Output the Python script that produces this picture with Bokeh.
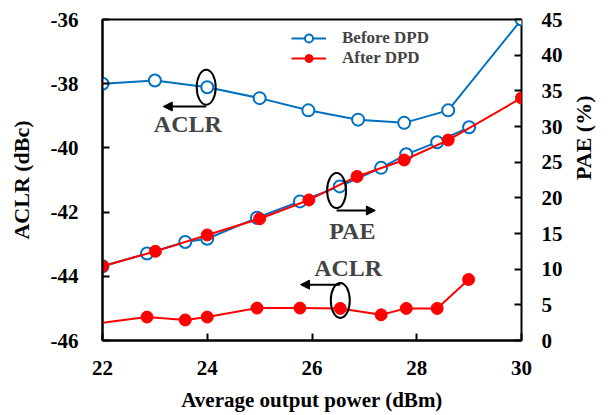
import math
from bokeh.plotting import figure
from bokeh.models import (Range1d, LinearAxis, SingleIntervalTicker, FixedTicker, Label, Arrow,
                          NormalHead, Legend, LegendItem, PrintfTickFormatter)
from bokeh.embed import file_html
from bokeh.resources import INLINE

# Before DPD
before_aclr_x = [22, 23.0, 24.0, 25.0, 25.93, 26.88, 27.76, 28.6, 30]
before_aclr_y = [-38.0, -37.9, -38.11, -38.45, -38.83, -39.12, -39.22, -38.83, -36.0]
before_pae_x = [22, 22.85, 23.58, 24.0, 24.95, 25.77, 26.53, 27.32, 27.8, 28.39, 29.0]
before_pae_y = [10.4, 12.2, 13.8, 14.26, 17.2, 19.5, 21.6, 24.2, 26.1, 27.8, 29.9]
# After DPD
after_pae_x = [22, 23.01, 24.0, 25.0, 25.94, 26.86, 27.76, 28.6, 30]
after_pae_y = [10.4, 12.5, 14.8, 17.07, 19.7, 23.0, 25.3, 28.1, 34.0]
after_aclr_x = [22, 22.85, 23.58, 24.0, 24.95, 25.77, 26.54, 27.32, 27.8, 28.39, 28.99]
after_aclr_y = [-45.45, -45.27, -45.36, -45.27, -44.99, -44.99, -45.0, -45.2, -45.0, -45.0, -44.1]
pae_ticks = [0, 5, 10, 15, 20, 25, 30, 35, 40, 45]

BLUE = "#0070C0"
RED = "#FF0000"
FONT = "Liberation Serif"

W, H = 612, 414
p = figure(width=W, height=H, output_backend="svg", toolbar_location=None,
           x_range=Range1d(22, 30), y_range=Range1d(-46, -36),
           min_border_left=102, min_border_right=W - 521, min_border_top=19, min_border_bottom=H - 340)
p.extra_y_ranges = {"pae": Range1d(0, 45)}
p.grid.visible = False
p.outline_line_color = "black"
p.outline_line_width = 2
p.background_fill_color = "white"

def style_axis(ax):
    ax.axis_line_width = 2
    ax.axis_line_color = "black"
    ax.major_tick_in = 7
    ax.major_tick_out = 0
    ax.major_tick_line_width = 2
    ax.minor_tick_line_color = None
    ax.formatter = PrintfTickFormatter(format="%d")
    ax.major_label_text_font = FONT
    ax.major_label_text_font_style = "bold"
    ax.major_label_text_font_size = "21px"
    ax.major_label_text_color = "black"
    ax.axis_label_text_font = FONT
    ax.axis_label_text_font_style = "bold"
    ax.axis_label_text_font_size = "22px"
    ax.axis_label_text_color = "black"

p.xaxis.ticker = SingleIntervalTicker(interval=2)
p.yaxis.ticker = SingleIntervalTicker(interval=2)
p.xaxis.axis_label = "Average output power (dBm)"
p.yaxis.axis_label = "ACLR (dBc)"
style_axis(p.xaxis[0])
style_axis(p.yaxis[0])
p.xaxis.axis_label_text_font_size = "21px"
p.xaxis.major_label_standoff = 16
p.yaxis.major_label_standoff = 20
p.xaxis.axis_label_standoff = 10
p.yaxis.axis_label_standoff = 14

ra = LinearAxis(y_range_name="pae", axis_label="PAE (%)", ticker=FixedTicker(ticks=pae_ticks),
                bounds=(-9.4, 45))
style_axis(ra)
ra.axis_line_color = None  # the frame outline draws the right edge
ra.major_label_standoff = 20
ra.axis_label_standoff = 18
try:
    ra.axis_label_orientation = math.pi / 2
except Exception:
    pass
p.add_layout(ra, "right")

# before DPD
bl1 = p.line(before_aclr_x, before_aclr_y, line_color=BLUE, line_width=2)
bs1 = p.scatter(before_aclr_x, before_aclr_y, size=12, marker="circle", fill_color="white",
                line_color=BLUE, line_width=2)
p.line(before_pae_x, before_pae_y, line_color=BLUE, line_width=2, y_range_name="pae")
p.scatter(before_pae_x, before_pae_y, size=12, marker="circle", fill_color="white",
          line_color=BLUE, line_width=2, y_range_name="pae")
# after DPD
al1 = p.line(after_pae_x, after_pae_y, line_color=RED, line_width=2, y_range_name="pae")
as1 = p.scatter(after_pae_x, after_pae_y, size=12, marker="circle", fill_color=RED,
                line_color=RED, y_range_name="pae")
p.line(after_aclr_x, after_aclr_y, line_color=RED, line_width=2)
p.scatter(after_aclr_x[1:], after_aclr_y[1:], size=12, marker="circle", fill_color=RED, line_color=RED)

# annotations
for cx, cy in [(23.98, -38.11), (26.47, -41.33), (26.54, -44.75)]:
    p.ellipse(x=[cx], y=[cy], width=19, height=35, width_units="screen", height_units="screen",
              fill_color=None, line_color="black", line_width=2)

for x0, x1, yy in [(23.98, 23.16, -38.71), (26.47, 27.21, -41.95), (26.54, 25.78, -44.26)]:
    p.add_layout(Arrow(x_start=x0, y_start=yy, x_end=x1, y_end=yy, line_width=2, line_color="black",
                       end=NormalHead(size=9, fill_color="black", line_color="black")))

for tx, ty, t in [(23.63, -39.24, "ACLR"), (26.77, -42.6, "PAE"), (26.69, -43.73, "ACLR")]:
    p.add_layout(Label(x=tx, y=ty, text=t, text_font=FONT, text_font_style="bold",
                       text_font_size="24px", text_align="center", text_baseline="middle"))

legend = Legend(items=[LegendItem(label="Before DPD", renderers=[bl1, bs1]),
                       LegendItem(label="After DPD", renderers=[al1, as1])],
                location=(189, 272), glyph_width=35, glyph_height=20, spacing=0, padding=0, margin=0,
                label_text_font=FONT, label_text_font_style="bold", label_text_font_size="17px",
                label_standoff=16, border_line_color=None, background_fill_alpha=0)
p.add_layout(legend)

open("out.html", "w").write(file_html(p, INLINE))
